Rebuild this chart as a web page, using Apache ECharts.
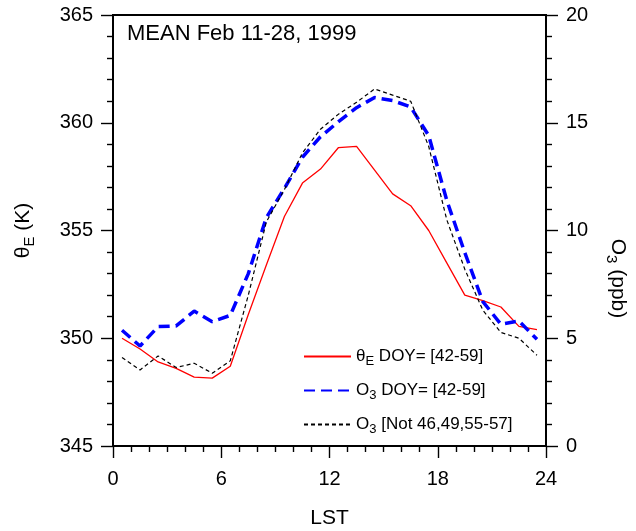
<!DOCTYPE html>
<html>
<head>
<meta charset="utf-8">
<script src="https://cdn.jsdelivr.net/npm/echarts@6/dist/echarts.min.js"></script>
<style>
html,body{margin:0;padding:0;background:#fff;}
#chart{width:636px;height:531px;}
</style>
</head>
<body>
<div id="chart"></div>
<script>
// Hours (LST) of the hourly means
const hours = [0.5,1.5,2.5,3.5,4.5,5.5,6.5,7.5,8.5,9.5,10.5,11.5,12.5,13.5,14.5,15.5,16.5,17.5,18.5,19.5,20.5,21.5,22.5,23.5];
// θE (K), DOY 42-59
const thetaE = [350.0,349.5,348.9,348.6,348.2,348.15,348.7,351.1,353.4,355.65,357.2,357.85,358.85,358.9,357.8,356.7,356.15,355.0,353.5,352.0,351.75,351.45,350.55,350.4];
// O3 (ppb), DOY 42-59
const o3All = [5.37,4.64,5.54,5.57,6.26,5.77,6.06,8.0,10.6,11.95,13.4,14.35,15.05,15.7,16.17,16.03,15.73,14.4,11.4,8.97,6.7,5.65,5.8,4.95];
// O3 (ppb), excluding DOY 46,49,55-57
const o3Subset = [4.11,3.53,4.18,3.64,3.84,3.38,3.95,7.0,10.4,11.9,13.6,14.7,15.4,15.95,16.57,16.28,16.0,13.9,10.5,8.2,6.3,5.27,5.0,4.21];

const xTicks = [0,6,12,18,24];
const leftTicks = [345,350,355,360,365];
const rightTicks = [0,5,10,15,20];

const names = ['θE DOY= [42-59]', 'O3 DOY= [42-59]', 'O3 [Not 46,49,55-57]'];
const legendRich = {
  'θE DOY= [42-59]': '{t|θ}{s|E}{t| DOY= [42-59]}',
  'O3 DOY= [42-59]': '{t|O}{s|3}{t| DOY= [42-59]}',
  'O3 [Not 46,49,55-57]': '{t|O}{s|3}{t| [Not 46,49,55-57]}'
};

const FONT = '"Liberation Sans", Arial, sans-serif';
const chart = echarts.init(document.getElementById('chart'));

const axisCommon = {
  axisLine: {show: true, lineStyle: {color: '#000', width: 2}},
  axisTick: {show: true, inside: false, length: 12, lineStyle: {color: '#000', width: 1.4}},
  minorTick: {show: true, length: 6, lineStyle: {color: '#000', width: 1.4}},
  splitLine: {show: false},
  minorSplitLine: {show: false},
  axisLabel: {color: '#000', fontSize: 20, fontFamily: FONT, margin: 20},
};

chart.setOption({
  animation: false,
  backgroundColor: '#fff',
  textStyle: {fontFamily: FONT, color: '#000'},
  title: {
    text: 'MEAN Feb 11-28, 1999',
    left: 122, top: 18,
    textStyle: {fontSize: 22, fontWeight: 'normal', color: '#000', fontFamily: FONT}
  },
  grid: {left: 113, right: 90, top: 15, bottom: 85, outerBoundsMode: 'none', containLabel: false,
    show: true, borderColor: '#000', borderWidth: 2, backgroundColor: 'transparent'},
  legend: {
    orient: 'vertical', left: 298, top: 340,
    itemWidth: 47, itemHeight: 14, itemGap: 11,
    data: names,
    formatter: n => legendRich[n],
    itemStyle: {color: 'transparent', borderWidth: 0, opacity: 0},
    textStyle: {
      fontSize: 17, fontFamily: FONT, color: '#000',
      rich: {
        t: {fontSize: 17, fontFamily: FONT, color: '#000', verticalAlign: 'top', lineHeight: 18},
        s: {fontSize: 13, fontFamily: FONT, color: '#000', padding: [10,0,0,0], lineHeight: 14}
      }
    }
  },
  xAxis: Object.assign({}, axisCommon, {
    type: 'value', min: xTicks[0], max: xTicks[xTicks.length-1], interval: 6,
    minorTick: Object.assign({}, axisCommon.minorTick, {splitNumber: 6}),
    name: 'LST', nameLocation: 'middle', nameGap: 62,
    nameTextStyle: {fontSize: 21, fontFamily: FONT, color: '#000'},
    axisLabel: Object.assign({}, axisCommon.axisLabel, {margin: 23})
  }),
  yAxis: [
    Object.assign({}, axisCommon, {
      type: 'value', position: 'left', min: leftTicks[0], max: leftTicks[leftTicks.length-1], interval: 5,
      minorTick: Object.assign({}, axisCommon.minorTick, {splitNumber: 5}),
      name: '{t|θ}{s|E}{t| (K)}', nameLocation: 'middle', nameGap: 78, nameRotate: 90,
      nameTextStyle: {fontSize: 21, fontFamily: FONT, color: '#000',
        rich: {
          t: {fontSize: 21, fontFamily: FONT, color: '#000', verticalAlign: 'top', lineHeight: 22},
          s: {fontSize: 15, fontFamily: FONT, color: '#000', padding: [11,0,0,0], lineHeight: 16}
        }}
    }),
    Object.assign({}, axisCommon, {
      type: 'value', position: 'right', min: rightTicks[0], max: rightTicks[rightTicks.length-1], interval: 5,
      minorTick: Object.assign({}, axisCommon.minorTick, {splitNumber: 5}),
      name: '{t|O}{s|3}{t| (ppb)}', nameLocation: 'middle', nameGap: 60, nameRotate: -90,
      nameTextStyle: {fontSize: 21, fontFamily: FONT, color: '#000', padding: [0,0,0,96],
        rich: {
          t: {fontSize: 21, fontFamily: FONT, color: '#000', verticalAlign: 'top', lineHeight: 22},
          s: {fontSize: 15, fontFamily: FONT, color: '#000', padding: [11,0,0,0], lineHeight: 16}
        }}
    })
  ],
  series: [
    {
      name: names[0], type: 'line', yAxisIndex: 0, symbol: 'none',
      data: hours.map((h, i) => [h, thetaE[i]]),
      lineStyle: {color: '#ff0000', width: 1.3},
      itemStyle: {color: '#ff0000'}
    },
    {
      name: names[1], type: 'line', yAxisIndex: 1, symbol: 'none',
      data: hours.map((h, i) => [h, o3All[i]]),
      lineStyle: {color: '#0000ff', width: 3.5, type: [11, 6]},
      itemStyle: {color: '#0000ff'}
    },
    {
      name: names[2], type: 'line', yAxisIndex: 1, symbol: 'none',
      data: hours.map((h, i) => [h, o3Subset[i]]),
      lineStyle: {color: '#000', width: 1.2, type: [4, 3]},
      itemStyle: {color: '#000'}
    }
  ]
});
</script>
</body>
</html>
